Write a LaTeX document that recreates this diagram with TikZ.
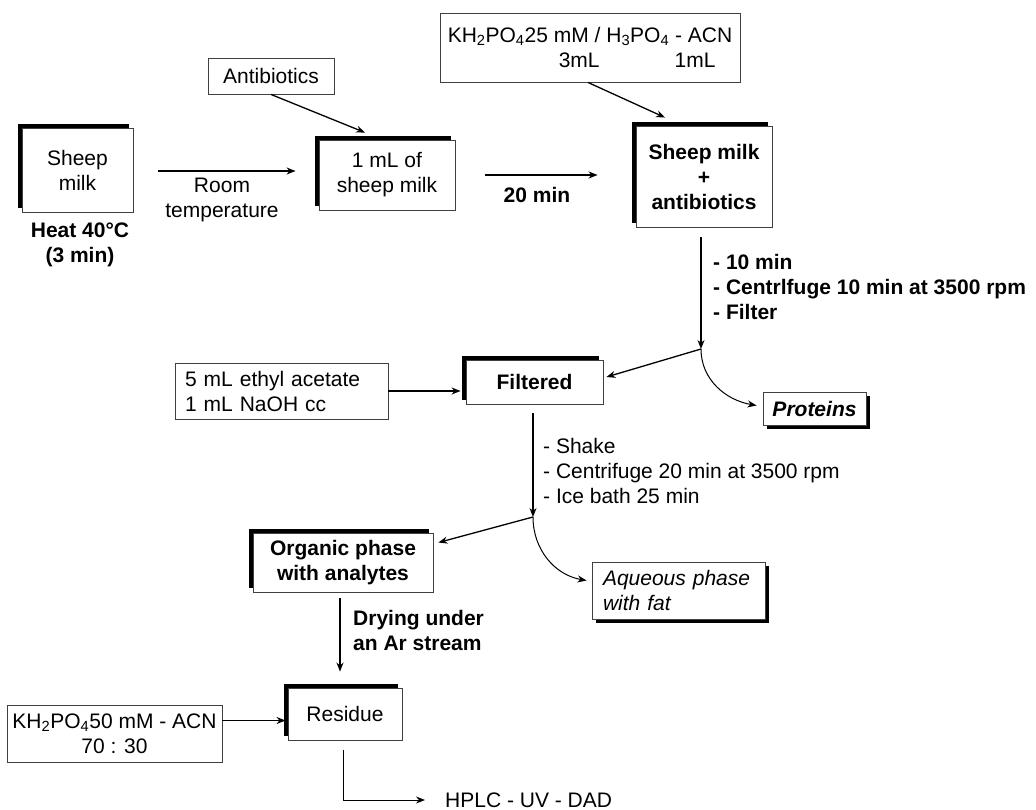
\documentclass[tikz,border=0pt]{standalone}
\usepackage{fontspec}
\setmainfont{Liberation Sans}
\usetikzlibrary{arrows.meta,shadows,calc}
\begin{document}
\begin{tikzpicture}[x=1pt,y=-1pt,
  every node/.style={font=\fontsize{21}{25}\selectfont},
  bx/.style={draw=black!75, line width=0.9pt, fill=white, inner sep=0pt, align=center},
  shTL/.style={bx, drop shadow={shadow xshift=-4pt, shadow yshift=4pt, opacity=1, fill=black}},
  shBR/.style={bx, drop shadow={shadow xshift=4pt, shadow yshift=-4pt, opacity=1, fill=black}},
  bold/.style={font=\fontsize{21}{25}\selectfont\bfseries},
  lbl/.style={inner sep=0pt, align=left},
  arr/.style={line width=1.3pt, -{Stealth[length=9pt,width=7pt]}},
  ln/.style={line width=1.3pt},
  thinln/.style={line width=1pt}
]
\useasboundingbox (0,0) rectangle (1036,810);
% boxes
\node[shTL, minimum width=111, minimum height=84] (milk) at (77.5,170) {Sheep\\milk};
\node[bx, minimum width=126, minimum height=36] (antib) at (271,76) {Antibiotics};
\node[shTL, minimum width=136, minimum height=70] (onem) at (387,175) {1 mL of\\sheep milk};
\node[bx, minimum width=300, minimum height=69, align=left] (kh) at (590,47.5)
  {KH\textsubscript{2}PO\textsubscript{4}25 mM / H\textsubscript{3}PO\textsubscript{4} - ACN\\\hspace*{111pt}3mL\hspace{75pt}1mL};
\node[shTL, bold, minimum width=136, minimum height=101] (smab) at (704,176.5) {Sheep milk\\+\\antibiotics};
\node[shTL, bold, minimum width=137, minimum height=44] (filt) at (534.5,382) {Filtered};
\node[bx, minimum width=213, minimum height=56, align=left, text width=193] (ethyl) at (281.5,391) {5 mL ethyl acetate\\1 mL NaOH cc};
\node[shBR, font=\fontsize{21}{25}\selectfont\bfseries\itshape, minimum width=103, minimum height=33] (prot) at (814.5,408.5) {Proteins};
\node[shTL, bold, minimum width=180, minimum height=59] (org) at (343,562.5) {Organic phase\\with analytes};
\node[shBR, font=\fontsize{21}{25}\selectfont\itshape, minimum width=173, minimum height=57, align=left, text width=151] (aq) at (678.5,590.5) {Aqueous phase\\with fat};
\node[shTL, minimum width=114, minimum height=52] (res) at (345,714) {Residue};
\node[bx, minimum width=215, minimum height=57] (kh50) at (114.5,733.5) {KH\textsubscript{2}PO\textsubscript{4}50 mM - ACN\\70 : 30};
\node[lbl, anchor=west] (hplc) at (445,800) {HPLC - UV - DAD};
% labels
\node[bold, align=center] (heat) at (80,245) {Heat 40°C\\(3 min)};
\node[align=center] (room) at (222,200) {Room\\temperature};
\node[bold] (twenty) at (537,195) {20 min};
\node[lbl, bold, anchor=west] (stepa) at (713,287) {- 10 min\\- Centrlfuge 10 min at 3500 rpm\\- Filter};
\node[lbl, anchor=west] (stepb) at (543,471) {- Shake\\- Centrifuge 20 min at 3500 rpm\\- Ice bath 25 min};
\node[lbl, bold, anchor=west] (dry) at (353,630) {Drying under\\an Ar stream};
% junctions
\coordinate (j1) at (701,349);
\coordinate (j2) at (533,517);
% connectors
\draw[arr] ($(milk.east)+(25,1)$) -- ($(milk.east -| onem.west)+(-23,1)$);
\draw[arr] (antib.south) -- ($(onem.north)+(-22,-7)$);
\draw[arr] ($(onem.east)+(30,0)$) -- ($(onem.east -| smab.west)+(-38,0)$);
\draw[arr] ($(kh.south)+(-2,0)$) -- ($(smab.north)+(-39,-8)$);
\draw[arr] ($(smab.south)+(-3,10)$) -- (j1);
\draw[arr] (j1) -- ($(filt.east)+(3,-5)$);
\draw[arr, thinln] (j1) to[out=-90,in=170] ($(prot.west)+(-6,-3)$);
\draw[arr] (ethyl.east) -- ($(ethyl.east -| filt.west)+(-5,0)$);
\draw[arr] ($(filt.south)+(-1.5,9)$) -- (j2);
\draw[arr] (j2) -- ($(org.east)+(5,-20)$);
\draw[arr, thinln] (j2) to[out=-90,in=170] ($(aq.west)+(-5,-10)$);
\draw[arr] ($(org.south)+(-3,6)$) -- ($(res.north)+(-5,-16)$);
\draw[arr] ($(kh50.east)+(0,-13)$) -- ($(kh50.east -| res.west)+(-2,-13)$);
\draw[arr, thinln] ($(res.south)+(-2,10)$) |- ($(hplc.west)+(-20,0)$);
\end{tikzpicture}
\end{document}
